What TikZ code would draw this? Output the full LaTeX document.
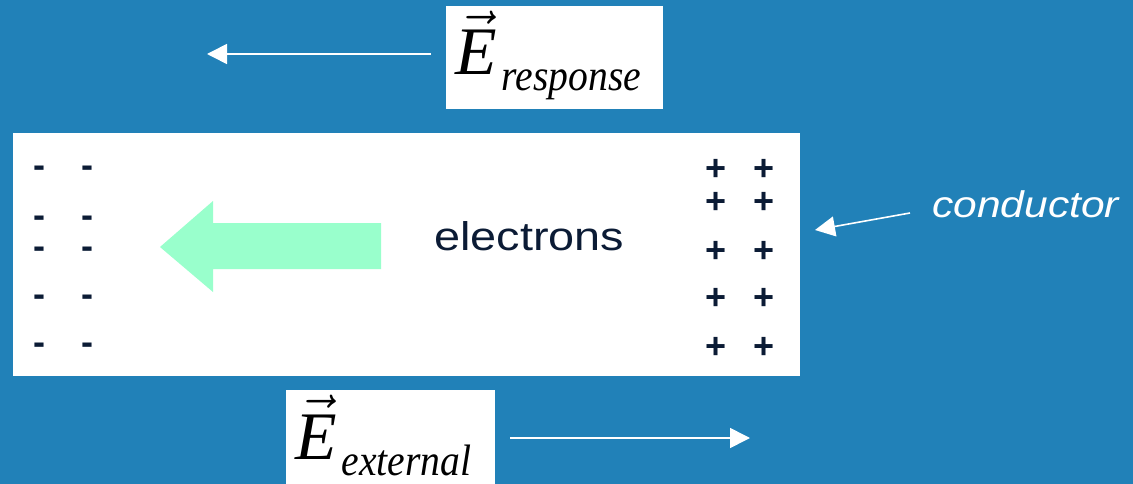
\RequirePackage{fix-cm}
\documentclass[tikz,border=0pt]{standalone}
\usepackage{fontspec}
\setmainfont{Liberation Serif}
\setsansfont{Liberation Sans}
\usetikzlibrary{arrows.meta}
\definecolor{bg}{RGB}{33,129,184}
\definecolor{navy}{RGB}{11,27,53}
\definecolor{mint}{RGB}{153,255,204}
\newcommand{\vecE}{\fontsize{68}{68}\selectfont$\vec{\hbox{\itshape E}}$}
\newcommand{\subtxt}[1]{\kern5pt\raisebox{-16pt}{\fontsize{44}{44}\selectfont\itshape\scalebox{0.9}[1]{#1}}}
\begin{document}
\begin{tikzpicture}[x=1pt,y=-1pt,
  sign/.style={font=\fontsize{36}{36}\selectfont\sffamily\bfseries, text=navy, inner sep=0pt, anchor=base},
  whitearrow/.style={draw=white, line width=1.6pt, -{Triangle[length=20pt,width=20pt]}},
  whitebox/.style={fill=white, draw=none, inner sep=0pt, anchor=north west},
  vlabel/.style={anchor=base west, inner sep=0pt, text=black}]
\useasboundingbox (0,0) rectangle (1133,484);
\fill[bg] (0,0) rectangle (1133,484);

% conductor slab
\node[whitebox, minimum width=787pt, minimum height=243pt] (cond) at (13,133) {};

% label boxes
\node[whitebox, minimum width=217pt, minimum height=103pt] (respbox) at (446,6) {};
\node[whitebox, minimum width=209pt, minimum height=100pt] (extbox) at (286,390) {};

\node[vlabel] (resp) at (455,75) {\vecE\subtxt{response}};
\node[vlabel] (ext) at (295,459) {\vecE\subtxt{external}};

% field arrows
\coordinate (rtail) at (431,54);
\coordinate (rtip) at (207,54);
\draw[whitearrow] (rtail) -- (rtip);
\coordinate (etail) at (510,438);
\coordinate (etip) at (750,438);
\draw[whitearrow] (etail) -- (etip);

% conductor label
\node[anchor=base west, inner sep=0pt, text=white, font=\fontsize{37}{37}\selectfont\sffamily\itshape] (condlabel) at (932,218) {\scalebox{1.15}[1]{conductor}};
\coordinate (ctail) at (910,213);
\coordinate (ctip) at (815,230);
\draw[whitearrow] (ctail) -- (ctip);

% electrons
\fill[mint] (160,247) -- (213,201) -- (213,223) -- (381,223) -- (381,269) -- (213,269) -- (213,292) -- cycle;
\node[anchor=base west, inner sep=0pt, text=navy, font=\fontsize{40}{40}\selectfont\sffamily] (el) at (434,250) {\scalebox{1.17}[1]{electrons}};

% charges
\foreach \y [count=\i] in {169,201,250,297,346} {
  \node[sign] (pa\i) at (716,\y+12) {+};
  \node[sign] (pb\i) at (764,\y+12) {+};
}
\foreach \y [count=\i] in {169,218,249,297,345} {
  \node[sign] (ma\i) at (39,\y+9) {-};
  \node[sign] (mb\i) at (87,\y+9) {-};
}
\end{tikzpicture}
\end{document}
